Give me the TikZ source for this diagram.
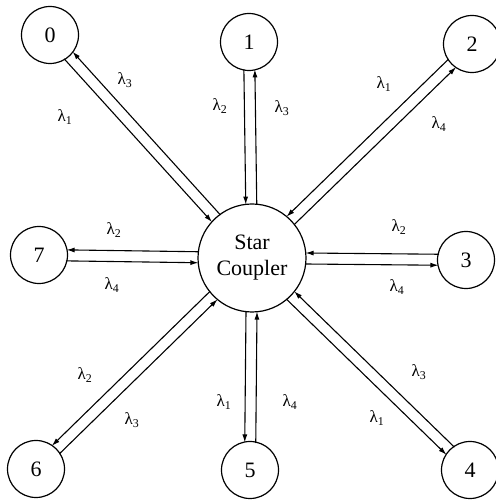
\documentclass[tikz,border=0pt]{standalone}
\usepackage{fontspec}
\setmainfont{Liberation Serif}
\usetikzlibrary{calc,arrows.meta}

\begin{document}
\begin{tikzpicture}[x=1pt,y=1pt,>={Latex[length=8pt,width=5pt]},line cap=round,
  station/.style={draw,circle,line width=1.2pt,minimum size=57pt,inner sep=0pt,font=\fontsize{22}{22}\selectfont},
  coupler/.style={draw,circle,line width=1.2pt,minimum size=108pt,inner sep=0pt,align=center,font=\fontsize{22}{26}\selectfont},
  fibre/.style={line width=1.1pt,shorten <=27.5pt,shorten >=53.5pt},
  wl/.style={font=\fontsize{17}{17}\selectfont,inner sep=1pt}]
\useasboundingbox (0,0) rectangle (495,500);
\node[coupler] (sc) at (252,242) {Star\\Coupler};
\node[station] (n0) at (50,465) {0}; \node[station] (n1) at (249,458) {1};
\node[station] (n2) at (472,456) {2}; \node[station] (n3) at (466,240) {3};
\node[station] (n4) at (470,30) {4}; \node[station] (n5) at (250,30) {5};
\node[station] (n6) at (36,31) {6}; \node[station] (n7) at (39,245) {7};
% sending fibre on the right hand side, receiving fibre on the left
\foreach \n in {0,...,7}{
  \draw[fibre,->] ($(n\n)!5.5pt!-90:(sc)$)--($(sc)!5.5pt!90:(n\n)$);
  \draw[fibre,<-] ($(n\n)!5.5pt!90:(sc)$)--($(sc)!5.5pt!-90:(n\n)$);
}
\node[wl] (w0a) at (125,420) {λ\textsubscript{3}}; \node[wl] (w0b) at (65,383) {λ\textsubscript{1}};
\node[wl] (w1a) at (220,394) {λ\textsubscript{2}}; \node[wl] (w1b) at (282,392) {λ\textsubscript{3}};
\node[wl] (w2a) at (384,416) {λ\textsubscript{1}}; \node[wl] (w2b) at (439,376) {λ\textsubscript{4}};
\node[wl] (w3a) at (399,273) {λ\textsubscript{2}}; \node[wl] (w3b) at (397,213) {λ\textsubscript{4}};
\node[wl] (w4a) at (419,128) {λ\textsubscript{3}}; \node[wl] (w4b) at (377,82) {λ\textsubscript{1}};
\node[wl] (w5a) at (224,98) {λ\textsubscript{1}}; \node[wl] (w5b) at (290,98) {λ\textsubscript{4}};
\node[wl] (w6a) at (85,125) {λ\textsubscript{2}}; \node[wl] (w6b) at (132,80) {λ\textsubscript{3}};
\node[wl] (w7a) at (114,270) {λ\textsubscript{2}}; \node[wl] (w7b) at (112,215) {λ\textsubscript{4}};
\end{tikzpicture}
\end{document}
